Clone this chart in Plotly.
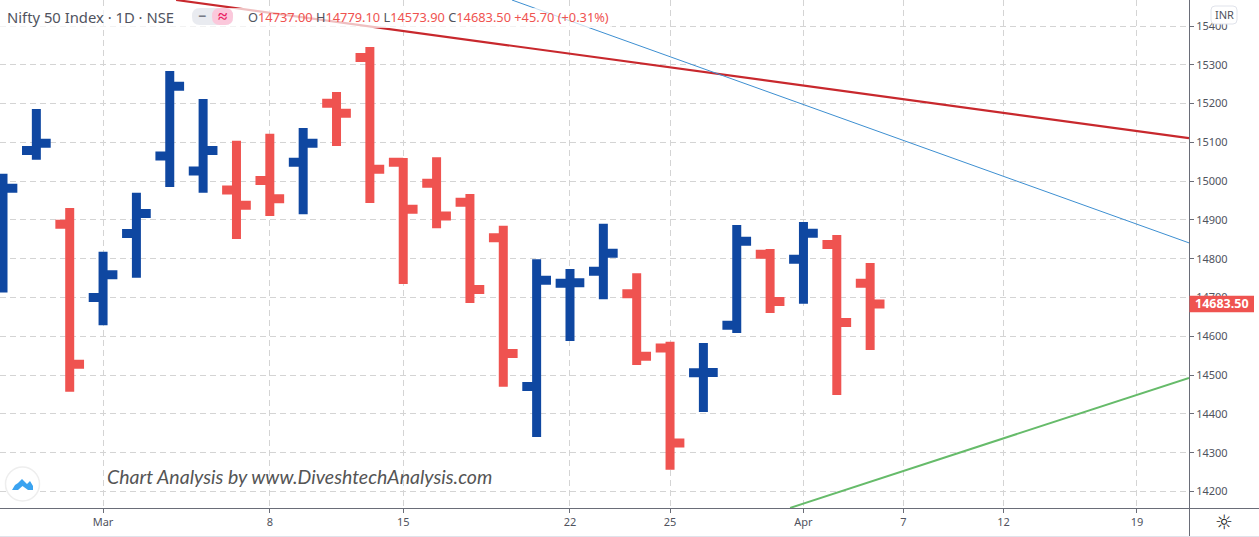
import plotly.graph_objects as go

# Trading-day index (0 = 1 Mar) and OHLC values
day_index = list(range(-3, 24))
opens  = [14800, 15079, 14889, 14700, 14865, 15065, 15026, 14977, 15002, 15049, 15201, 15319, 15049, 14995, 14946, 14854, 14471, 14737, 14768, 14710, 14570, 14506, 14629, 14812, 14799, 14837, 14737]
highs  = [15019, 15186, 14931, 14818, 14970, 15284, 15212, 15104, 15122, 15137, 15230, 15346, 15060, 15062, 14967, 14885, 14799, 14774, 14890, 14763, 14586, 14583, 14887, 14825, 14895, 14861, 14789]
lows   = [14713, 15055, 14457, 14629, 14751, 14985, 14970, 14851, 14910, 14915, 15091, 14944, 14735, 14879, 14686, 14470, 14341, 14588, 14696, 14526, 14256, 14405, 14609, 14660, 14684, 14449, 14565]
closes = [14982, 15098, 14528, 14759, 14917, 15245, 15079, 14938, 14955, 15098, 15175, 15031, 14928, 14910, 14721, 14556, 14745, 14738, 14814, 14549, 14325, 14507, 14845, 14690, 14866, 14636, 14683.5]

x_tick_vals = [0, 5, 9, 14, 17, 21, 24, 27, 31]
x_tick_text = ["Mar", "8", "15", "22", "25", "Apr", "7", "12", "19"]

red_line_x, red_line_y = [2.19, 32.56], [15467, 15111]
blue_line_x, blue_line_y = [12.26, 32.56], [15467, 14841]
green_line_x, green_line_y = [20.6, 32.56], [14158, 14493]

last_price = 14683.5
UP, DOWN = "#0f47a1", "#ef5350"
TXT = "#50535e"
GRID = "#d4d4d4"
W, H = 1189, 508
FONT = "Noto Sans"

def X(p): return p / W
def Y(p): return 1 - p / H

fig = go.Figure()
fig.add_trace(go.Ohlc(
    x=day_index, open=opens, high=highs, low=lows, close=closes, tickwidth=0.43,
    increasing=dict(line=dict(color=UP, width=9)),
    decreasing=dict(line=dict(color=DOWN, width=9)),
    hoverinfo="skip", showlegend=False))
for xs, ys, c, w in [(red_line_x, red_line_y, "#c8282d", 2.2),
                     (blue_line_x, blue_line_y, "#3d8fd1", 1),
                     (green_line_x, green_line_y, "#66bb6a", 2)]:
    fig.add_trace(go.Scatter(x=xs, y=ys, mode="lines", line=dict(color=c, width=w),
                             hoverinfo="skip", showlegend=False))

def rrect(x0, y0, x1, y1, r):
    a, b, c, d = X(x0), X(x1), Y(y0), Y(y1)
    rx, ry = r / W, r / H
    return (f"M{a+rx},{c} L{b-rx},{c} Q{b},{c} {b},{c-ry} L{b},{d+ry} Q{b},{d} {b-rx},{d} "
            f"L{a+rx},{d} Q{a},{d} {a},{d+ry} L{a},{c-ry} Q{a},{c} {a+rx},{c} Z")

def poly(pts):
    return "M" + " L".join(f"{X(a)},{Y(b)}" for a, b in pts) + " Z"

def paper(**k):
    return dict(xref="paper", yref="paper", layer="above", **k)

shapes = [
    # veil behind the legend text
    paper(type="rect", x0=X(0), x1=X(612), y0=Y(8), y1=Y(28), fillcolor="rgba(255,255,255,0.7)", line_width=0),
    # legend pill
    paper(type="path", path=rrect(192, 8, 233, 25, 8), fillcolor="#e9ebf0", line_width=0),
    paper(type="path", path=rrect(212, 8, 233, 25, 8), fillcolor="#fbc8db", line_width=0),
    # INR box
    paper(type="path", path=rrect(1211, 6, 1237, 24, 4), fillcolor="#ffffff", line=dict(color="#e0e3eb", width=1)),
    # price axis extension & bottom edge
    paper(type="line", x0=X(1189.5), x1=X(1189.5), y0=Y(508), y1=Y(536), line=dict(color="#6a6d78", width=1)),
    paper(type="line", x0=X(1189.5), x1=X(1259), y0=Y(508.5), y1=Y(508.5), line=dict(color="#6a6d78", width=1)),
    paper(type="line", x0=0, x1=X(1259), y0=Y(536.5), y1=Y(536.5), line=dict(color="#e0e3eb", width=1)),
    # logo
    paper(type="circle", x0=X(5.5), x1=X(39.5), y0=Y(467), y1=Y(501), fillcolor="#ffffff", line=dict(color="#eeeeee", width=1.5)),
    paper(type="path", path=poly([(12, 490), (15, 485), (18, 483), (22, 479), (27, 484), (30, 481), (33, 486), (33, 490), (28, 490), (22.5, 486), (18, 490)]),
          fillcolor="#3ba3f0", line_width=0),
    # price label
    dict(type="rect", xref="paper", yref="y", layer="above", x0=X(1189.5), x1=X(1254),
         y0=last_price - 21, y1=last_price + 21, fillcolor=DOWN, line_width=0),
]

def lab(c, v):
    return f'<span style="color:{TXT}">{c}</span>{v}'

ohlc_text = " ".join([lab("O", "14737.00"), lab("H", "14779.10"), lab("L", "14573.90"), lab("C", "14683.50"), "+45.70 (+0.31%)"])

def note(px_x, px_y, text, size, color, anchor="left", family=FONT):
    return dict(xref="paper", yref="paper", x=X(px_x), y=Y(px_y), text=text, showarrow=False,
                xanchor=anchor, yanchor="middle", font=dict(size=size, color=color, family=family),
                borderpad=0, borderwidth=0)

annotations = [
    note(7, 17, "Nifty 50 Index · 1D · NSE", 14.8, TXT),
    note(202, 16, "<b>−</b>", 14, "#787b86", "center"),
    note(222.5, 16, "<b>≈</b>", 17, "#e91e63", "center"),
    note(248, 17, ohlc_text, 12.8, DOWN),
    note(1224, 15, "INR", 11, TXT, "center"),
    note(107, 476, "<i>Chart Analysis by www.DiveshtechAnalysis.com</i>", 19.5, "#555555", family="Lato"),
    note(1224, 522, "☼", 20, "#222222", "center", "DejaVu Sans"),
    dict(xref="paper", yref="y", x=X(1222), y=last_price, text="<b>14683.50</b>", showarrow=False,
         xanchor="center", yanchor="middle", font=dict(size=12.5, color="#ffffff", family=FONT)),
]

fig.update_layout(
    width=1259, height=537, autosize=False,
    margin=dict(l=0, r=70, t=0, b=29, pad=0),
    paper_bgcolor="#ffffff", plot_bgcolor="#ffffff",
    font=dict(family=FONT, color=TXT, size=11),
    shapes=shapes, annotations=annotations, showlegend=False,
    xaxis=dict(range=[-3.09, 32.56], tickmode="array", tickvals=x_tick_vals, ticktext=x_tick_text,
               rangeslider=dict(visible=False), showgrid=True, gridcolor=GRID, griddash="6px,4px", gridwidth=1,
               zeroline=False, showline=True, linecolor="#6a6d78", linewidth=1, ticks="outside", ticklen=4,
               tickcolor="#6a6d78", tickfont=dict(size=11, color=TXT)),
    yaxis=dict(range=[14157.7, 15467], side="right", dtick=100, tick0=14200, tickformat="d",
               showgrid=True, gridcolor=GRID, griddash="6px,4px", gridwidth=1, zeroline=False,
               showline=True, linecolor="#6a6d78", linewidth=1, ticks="outside", ticklen=4,
               tickcolor="#6a6d78", tickfont=dict(size=11, color=TXT)),
)

fig.write_html("out.html", config={"displayModeBar": False},
               post_script="document.body.style.margin='0';document.body.style.overflow='hidden';")
